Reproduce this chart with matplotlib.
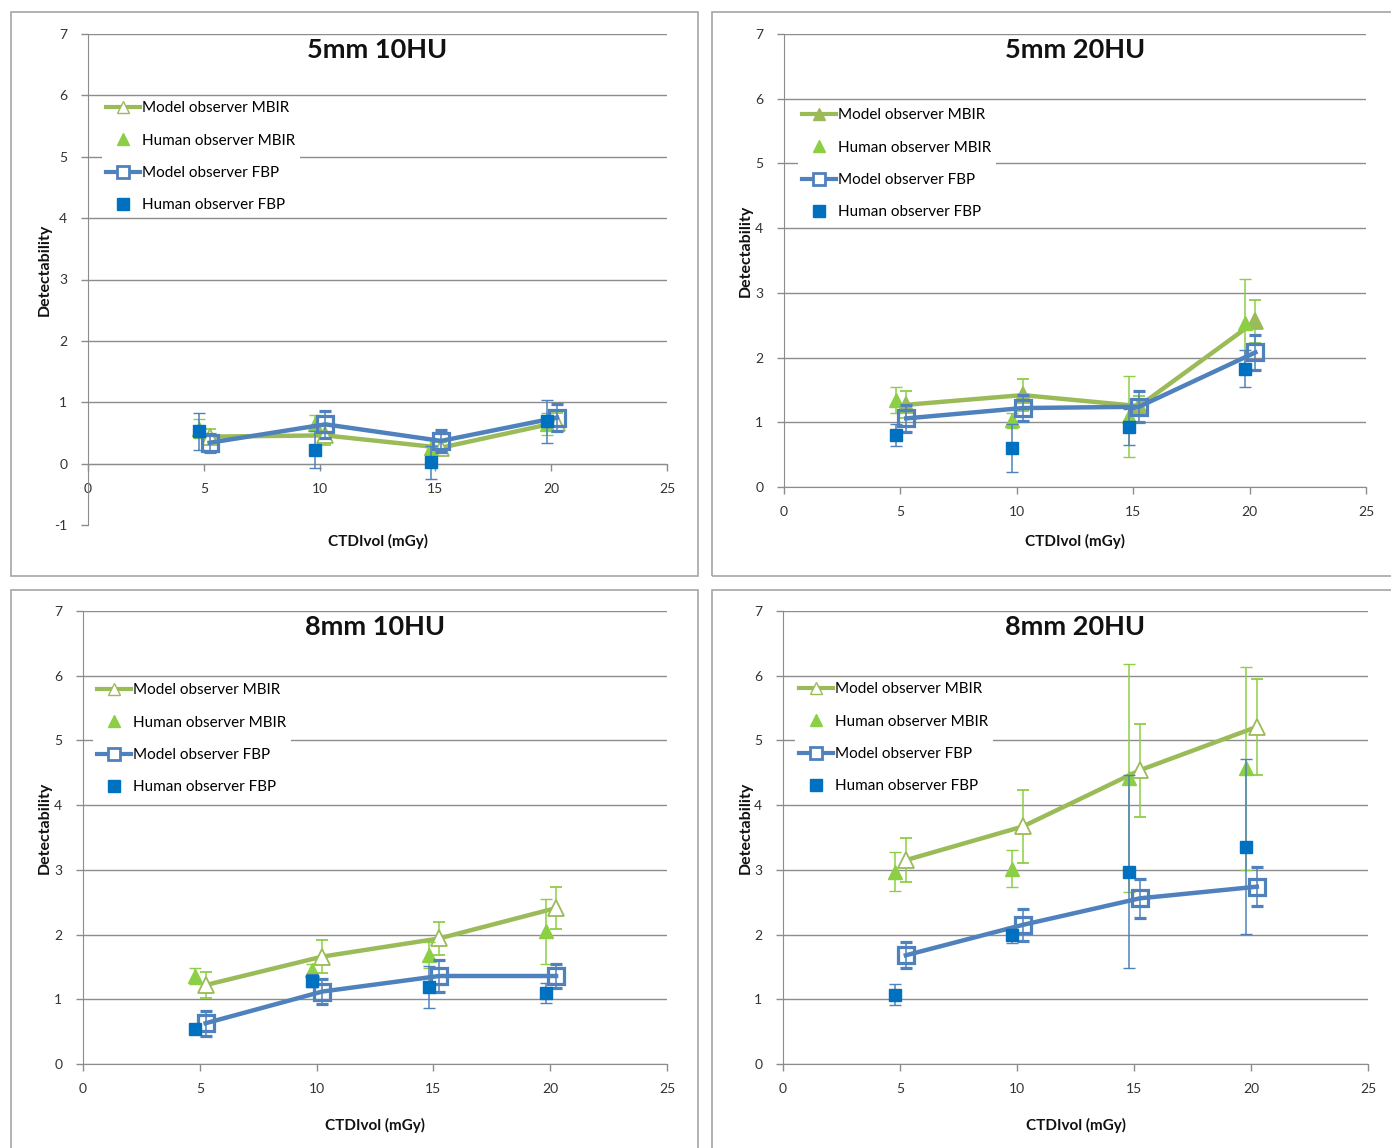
import matplotlib.pyplot as plt
from matplotlib.lines import Line2D
from matplotlib.patches import Rectangle

plt.rcParams['font.family'] = ['Lato', 'DejaVu Sans']
plt.rcParams['axes.unicode_minus'] = False

W, H = 1391, 1148

DOSE_MODEL = [5.25, 10.25, 15.25, 20.25]
DOSE_HUMAN = [4.8, 9.8, 14.8, 19.8]
X_TICKS = [0, 5, 10, 15, 20, 25]
LABELS = ["Model observer MBIR", "Human observer MBIR",
          "Model observer FBP", "Human observer FBP"]
TITLES = ["5mm 10HU", "5mm 20HU", "8mm 10HU", "8mm 20HU"]

# 5mm 10HU
P1_MODEL_MBIR = [0.44, 0.46, 0.26, 0.67]
P1_MODEL_MBIR_ERR = [0.12, 0.15, 0.10, 0.15]
P1_HUMAN_MBIR = [0.57, 0.64, 0.26, 0.65]
P1_HUMAN_MBIR_ERR = [0.15, 0.15, 0.12, 0.18]
P1_MODEL_FBP = [0.34, 0.64, 0.37, 0.75]
P1_MODEL_FBP_ERR = [0.15, 0.22, 0.18, 0.22]
P1_HUMAN_FBP = [0.53, 0.23, 0.02, 0.69]
P1_HUMAN_FBP_ERR = [0.30, 0.30, 0.27, 0.35]

# 5mm 20HU
P2_MODEL_MBIR = [1.27, 1.42, 1.25, 2.56]
P2_MODEL_MBIR_ERR = [0.21, 0.25, 0.15, 0.33]
P2_HUMAN_MBIR = [1.34, 1.03, 1.09, 2.54]
P2_HUMAN_MBIR_ERR = [0.20, 0.12, 0.62, 0.68]
P2_MODEL_FBP = [1.06, 1.22, 1.24, 2.08]
P2_MODEL_FBP_ERR = [0.21, 0.20, 0.24, 0.27]
P2_HUMAN_FBP = [0.80, 0.60, 0.93, 1.83]
P2_HUMAN_FBP_ERR = [0.17, 0.37, 0.28, 0.28]

# 8mm 10HU
P3_MODEL_MBIR = [1.22, 1.66, 1.94, 2.41]
P3_MODEL_MBIR_ERR = [0.20, 0.25, 0.25, 0.32]
P3_HUMAN_MBIR = [1.36, 1.45, 1.68, 2.05]
P3_HUMAN_MBIR_ERR = [0.13, 0.10, 0.20, 0.50]
P3_MODEL_FBP = [0.63, 1.12, 1.36, 1.36]
P3_MODEL_FBP_ERR = [0.19, 0.20, 0.25, 0.19]
P3_HUMAN_FBP = [0.54, 1.29, 1.19, 1.10]
P3_HUMAN_FBP_ERR = [0.05, 0.10, 0.33, 0.15]

# 8mm 20HU
P4_MODEL_MBIR = [3.15, 3.67, 4.54, 5.21]
P4_MODEL_MBIR_ERR = [0.34, 0.57, 0.72, 0.74]
P4_HUMAN_MBIR = [2.97, 3.02, 4.42, 4.57]
P4_HUMAN_MBIR_ERR = [0.30, 0.28, 1.76, 1.57]
P4_MODEL_FBP = [1.68, 2.15, 2.56, 2.74]
P4_MODEL_FBP_ERR = [0.20, 0.25, 0.30, 0.30]
P4_HUMAN_FBP = [1.07, 1.99, 2.97, 3.36]
P4_HUMAN_FBP_ERR = [0.16, 0.12, 1.49, 1.35]

GREEN_LINE = "#9BBB59"
GREEN_PT = "#8CCF45"
BLUE_LINE = "#4F81BD"
BLUE_PT = "#0070C0"
GRID = "#8C8C8C"


def px_rect(left, top, right, bottom):
    return [left / W, 1 - bottom / H, (right - left) / W, (bottom - top) / H]


def draw_panel(fig, title, series, box, axbox, ylim, mbir_filled, leg_xy):
    fig.add_artist(Rectangle((box[0] / W, 1 - box[3] / H),
                             (box[2] - box[0]) / W, (box[3] - box[1]) / H,
                             transform=fig.transFigure, fill=False,
                             edgecolor="#A6A6A6", linewidth=1.2))
    ax = fig.add_axes(px_rect(*axbox))
    mm, mm_e, hm, hm_e, mf, mf_e, hf, hf_e = series

    tri_face = GREEN_LINE if mbir_filled else "white"
    ax.errorbar(DOSE_MODEL, mm, yerr=mm_e, color=GREEN_LINE, lw=3.2,
                marker="^", ms=11, mfc=tri_face, mec=GREEN_LINE, mew=1.3,
                ecolor=GREEN_PT, elinewidth=1.1, capsize=4, zorder=3)
    ax.errorbar(DOSE_HUMAN, hm, yerr=hm_e, color=GREEN_PT, ls="none",
                marker="^", ms=10, ecolor=GREEN_PT, elinewidth=1.1,
                capsize=4, zorder=4)
    ax.errorbar(DOSE_MODEL, mf, yerr=mf_e, color=BLUE_LINE, lw=3.2,
                marker="s", ms=12, mfc="none", mec=BLUE_LINE, mew=2.3,
                ecolor=BLUE_LINE, elinewidth=1.1, capsize=4, zorder=5)
    ax.errorbar(DOSE_HUMAN, hf, yerr=hf_e, color=BLUE_PT, ls="none",
                marker="s", ms=9, ecolor=BLUE_LINE, elinewidth=1.1,
                capsize=4, zorder=6)

    ax.set_xlim(0, 25)
    ax.set_ylim(*ylim)
    ax.set_xticks(X_TICKS)
    ax.set_yticks(range(ylim[0], ylim[1] + 1))
    ax.grid(axis="y", color=GRID, lw=1.0)
    for val, gl in zip(ax.get_yticks(), ax.get_ygridlines()):
        if val < 0:
            gl.set_visible(False)
    ax.set_axisbelow(True)
    for s in ("top", "right"):
        ax.spines[s].set_visible(False)
    ax.spines["left"].set_color(GRID)
    ax.spines["bottom"].set_color(GRID)
    ax.spines["bottom"].set_position(("data", 0))
    ax.tick_params(axis="both", colors=GRID, labelcolor="#333333",
                   labelsize=10, length=5, width=1)
    ax.tick_params(axis="y", pad=10)
    ax.tick_params(axis="x", pad=9)

    ax.text(0.5, 1.0 - 16 / (axbox[3] - axbox[1]), title,
            transform=ax.transAxes, ha="center", va="center",
            fontsize=19.5, fontweight="bold", color="#111111")
    cx = (axbox[0] + axbox[2]) / 2 / W
    fig.text(cx, 1 - (box[3] - 35) / H, "CTDIvol (mGy)", ha="center",
             va="center", fontsize=11, fontweight="bold", color="#111111")
    fig.text((box[0] + 34) / W, 1 - ((axbox[1] + axbox[3]) / 2 - 10) / H,
             "Detectability", rotation=90, ha="center", va="center",
             fontsize=11.5, fontweight="bold", color="#111111")

    handles = [
        Line2D([], [], color=GREEN_LINE, lw=3, marker="^", ms=9,
               mfc=tri_face, mec=GREEN_LINE),
        Line2D([], [], color=GREEN_PT, ls="none", marker="^", ms=8),
        Line2D([], [], color=BLUE_LINE, lw=3, marker="s", ms=9,
               mfc="white", mec=BLUE_LINE, mew=2),
        Line2D([], [], color=BLUE_PT, ls="none", marker="s", ms=8),
    ]
    leg = ax.legend(handles, LABELS, loc="upper left",
                    bbox_to_anchor=(leg_xy[0] / W, 1 - leg_xy[1] / H),
                    bbox_transform=fig.transFigure, fontsize=11,
                    frameon=True, facecolor="white", edgecolor="none",
                    framealpha=1, fancybox=False, handlelength=2.2,
                    handletextpad=0.15, labelspacing=1.2, borderpad=0.3)
    leg.set_zorder(10)
    return ax


fig = plt.figure(figsize=(W / 100, H / 100), dpi=100)

panels = [
    (TITLES[0], (P1_MODEL_MBIR, P1_MODEL_MBIR_ERR, P1_HUMAN_MBIR, P1_HUMAN_MBIR_ERR,
                 P1_MODEL_FBP, P1_MODEL_FBP_ERR, P1_HUMAN_FBP, P1_HUMAN_FBP_ERR),
     (11, 12, 698, 576), (88, 34, 667, 525), (-1, 7), False, (94, 89)),
    (TITLES[1], (P2_MODEL_MBIR, P2_MODEL_MBIR_ERR, P2_HUMAN_MBIR, P2_HUMAN_MBIR_ERR,
                 P2_MODEL_FBP, P2_MODEL_FBP_ERR, P2_HUMAN_FBP, P2_HUMAN_FBP_ERR),
     (712, 12, 1400, 576), (784, 34, 1366, 487), (0, 7), True, (790, 96)),
    (TITLES[2], (P3_MODEL_MBIR, P3_MODEL_MBIR_ERR, P3_HUMAN_MBIR, P3_HUMAN_MBIR_ERR,
                 P3_MODEL_FBP, P3_MODEL_FBP_ERR, P3_HUMAN_FBP, P3_HUMAN_FBP_ERR),
     (11, 590, 698, 1160), (83, 611, 667, 1064), (0, 7), False, (85, 671)),
    (TITLES[3], (P4_MODEL_MBIR, P4_MODEL_MBIR_ERR, P4_HUMAN_MBIR, P4_HUMAN_MBIR_ERR,
                 P4_MODEL_FBP, P4_MODEL_FBP_ERR, P4_HUMAN_FBP, P4_HUMAN_FBP_ERR),
     (712, 590, 1400, 1160), (783, 611, 1368, 1064), (0, 7), False, (787, 670)),
]

for title, series, box, axbox, ylim, filled, leg_xy in panels:
    draw_panel(fig, title, series, box, axbox, ylim, filled, leg_xy)

fig.savefig("out.png", dpi=100)
